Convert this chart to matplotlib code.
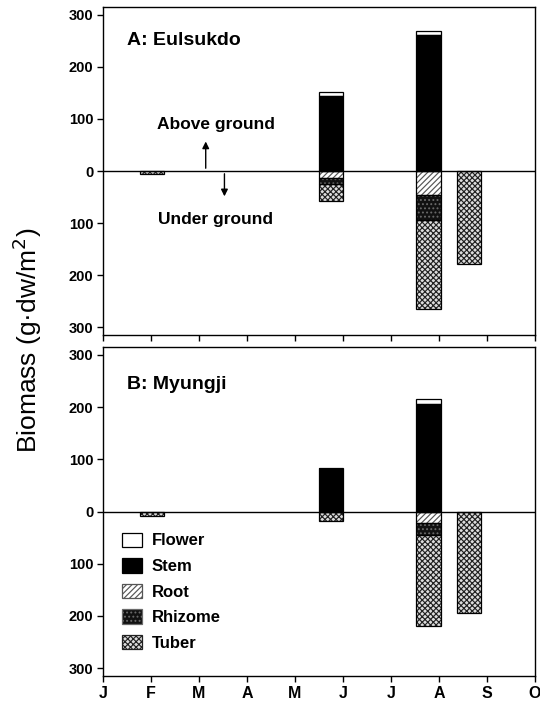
import matplotlib
matplotlib.use("Agg")
import matplotlib.pyplot as plt
import numpy as np

plt.rcParams['font.family'] = ['Liberation Sans', 'DejaVu Sans']
plt.rcParams['hatch.linewidth'] = 0.85

# ---- data ----
months = ['J', 'F', 'M', 'A', 'M', 'J', 'J', 'A', 'S', 'O']
sample_pos = [1.02, 4.75, 6.78, 7.62]   # sampling dates in month units (Jan=0)
bar_width = 0.51

site_names = ['A: Eulsukdo', 'B: Myungji']

# above ground (positive)
flower_A = [0, 7, 8, 0]
stem_A = [0, 145, 261, 0]
# under ground (plotted downward)
root_A = [0, 13, 46, 0]
rhizome_A = [0, 12, 48, 0]
tuber_A = [5, 33, 172, 178]

flower_B = [0, 0, 10, 0]
stem_B = [0, 84, 205, 0]
root_B = [0, 0, 22, 0]
rhizome_B = [0, 0, 23, 0]
tuber_B = [8, 19, 174, 195]

yticks = [-300, -200, -100, 0, 100, 200, 300]
ytick_labels = ['300', '200', '100', '0', '100', '200', '300']
legend_labels = ['Flower', 'Stem', 'Root', 'Rhizome', 'Tuber']

sites = [
    dict(flower=flower_A, stem=stem_A, root=root_A, rhizome=rhizome_A, tuber=tuber_A),
    dict(flower=flower_B, stem=stem_B, root=root_B, rhizome=rhizome_B, tuber=tuber_B),
]

styles = {
    'flower': dict(facecolor='white', edgecolor='black', hatch=None),
    'stem': dict(facecolor='black', edgecolor='black', hatch=None),
    'root': dict(facecolor='white', edgecolor='#555555', hatch='//////'),
    'rhizome': dict(facecolor='#111111', edgecolor='#6a6a6a', hatch='....'),
    'tuber': dict(facecolor='#dddddd', edgecolor='#222222', hatch='xxxxxx'),
}

fig = plt.figure(figsize=(5.40, 7.03), dpi=100)
W, H = 540, 703
left_px, right_px = 103, 535
ax_rects = [(7, 335), (347, 676)]

axes = []
for (top_px, bot_px) in ax_rects:
    ax = fig.add_axes([left_px / W, 1 - bot_px / H, (right_px - left_px) / W, (bot_px - top_px) / H])
    axes.append(ax)

x = np.array(sample_pos)
handles = {}
for i, (ax, d) in enumerate(zip(axes, sites)):
    stem = np.array(d['stem'], float)
    flower = np.array(d['flower'], float)
    root = np.array(d['root'], float)
    rhiz = np.array(d['rhizome'], float)
    tub = np.array(d['tuber'], float)

    parts = [
        ('stem', stem, np.zeros_like(stem)),
        ('flower', flower, stem),
        ('root', -root, np.zeros_like(root)),
        ('rhizome', -rhiz, -root),
        ('tuber', -tub, -(root + rhiz)),
    ]
    for name, h, b in parts:
        st = styles[name]
        bars = ax.bar(x, h, bottom=b, width=bar_width, facecolor=st['facecolor'],
                      edgecolor=st['edgecolor'], hatch=st['hatch'], linewidth=0.0, zorder=2)
        handles[name] = bars
        # black outline of each segment
        mask = h != 0
        ax.bar(x[mask], h[mask], bottom=b[mask], width=bar_width, fill=False,
               edgecolor='black', linewidth=0.9, zorder=3)

    ax.axhline(0, color='black', linewidth=1.0, zorder=4)
    ax.set_xlim(0, 9)
    ax.set_ylim(-315, 315)
    ax.set_xticks(range(10))
    ax.set_yticks(yticks)
    ax.set_yticklabels(ytick_labels, fontsize=10.5, fontweight='bold')
    ax.tick_params(axis='both', direction='out', length=4, width=1.0)
    ax.tick_params(axis='y', pad=3)
    if i == 1:
        ax.set_xticklabels(months, fontsize=11.5, fontweight='bold')
    else:
        ax.set_xticklabels([])
    for sp in ax.spines.values():
        sp.set_linewidth(1.0)
    ax.text(0.50, 250 if i == 0 else 244, site_names[i], fontsize=14, fontweight='bold',
            va='center', ha='left')

# annotations in panel A
axA = axes[0]
axA.text(2.35, 89, 'Above ground', fontsize=12.5, fontweight='bold', ha='center', va='center')
axA.text(2.35, -93, 'Under ground', fontsize=12.5, fontweight='bold', ha='center', va='center')
axA.annotate('', xy=(2.14, 62), xytext=(2.14, 0),
             arrowprops=dict(arrowstyle='-|>', color='black', lw=1.0, mutation_scale=10))
axA.annotate('', xy=(2.53, -54), xytext=(2.53, 0),
             arrowprops=dict(arrowstyle='-|>', color='black', lw=1.0, mutation_scale=10))

# legend in panel B
axB = axes[1]
legend_handles = [handles['flower'], handles['stem'], handles['root'], handles['rhizome'], handles['tuber']]
leg = axB.legend(legend_handles, legend_labels, loc='upper left', bbox_to_anchor=(0.045, 0.436),
                 frameon=False, prop=dict(weight='bold', size=12),
                 handlelength=1.15, handleheight=0.95, handletextpad=0.6, labelspacing=0.58,
                 borderpad=0, borderaxespad=0)
for p in leg.get_patches():
    p.set_linewidth(0.9)

fig.text(0.05, 1 - 340 / H, 'Biomass (g·dw/m$^2$)', rotation=90, fontsize=19,
         ha='center', va='center')

fig.savefig('out.png', dpi=100)
